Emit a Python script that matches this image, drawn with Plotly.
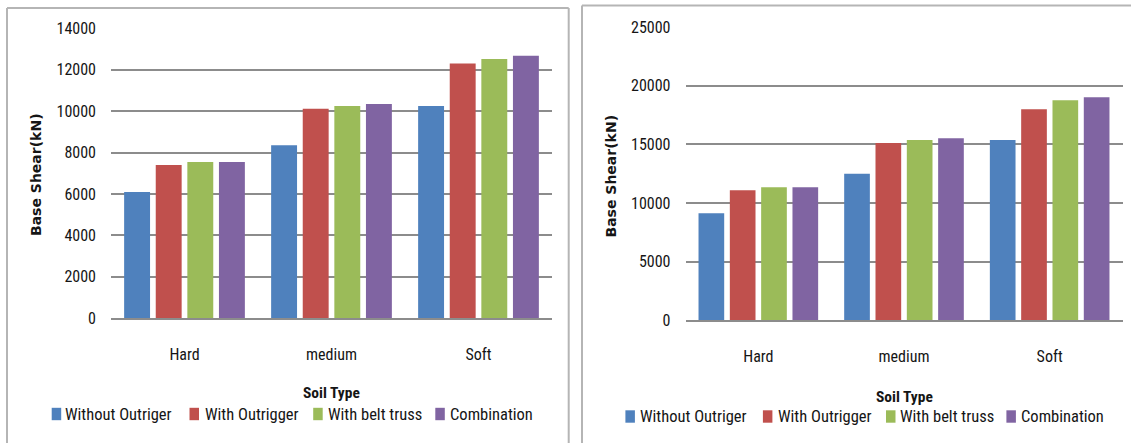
import plotly.graph_objects as go

# ---- data -------------------------------------------------------------
soil_types = ["Hard", "medium", "Soft"]
series_names = ["Without Outriger", "With Outrigger", "With belt truss", "Combination"]
series_colors = ["#4F81BD", "#C0504D", "#9BBB59", "#8064A2"]

# Base shear (kN), first panel
shear_left = {
    "Without Outriger": [6100, 8350, 10250],
    "With Outrigger": [7400, 10120, 12300],
    "With belt truss": [7550, 10250, 12520],
    "Combination": [7550, 10350, 12680],
}
# Base shear (kN), second panel
shear_right = {
    "Without Outriger": [9120, 12500, 15370],
    "With Outrigger": [11080, 15110, 17980],
    "With belt truss": [11340, 15370, 18750],
    "Combination": [11340, 15510, 19010],
}

left_ticks = [0, 2000, 4000, 6000, 8000, 10000, 12000, 14000]
right_ticks = [0, 5000, 10000, 15000, 20000, 25000]

# ---- page geometry (pixels) ------------------------------------------
W, H = 1131, 443


def fx(px):
    return px / W


def fy(py):
    return 1 - py / H


FONT = "Roboto Condensed, Liberation Sans Narrow, Arial Narrow, sans-serif"
TITLE_FONT = "DejaVu Sans, Verdana, sans-serif"
TEXT = "#151515"
GRID = "#8c8c8c"
FRAME = "#b5b5b5"

fig = go.Figure()

for name, color in zip(series_names, series_colors):
    fig.add_trace(go.Bar(
        x=soil_types, y=shear_left[name], name=name,
        marker=dict(color=color, line=dict(width=0)),
        xaxis="x", yaxis="y", showlegend=False,
    ))
    fig.add_trace(go.Bar(
        x=soil_types, y=shear_right[name], name=name,
        marker=dict(color=color, line=dict(width=0)),
        xaxis="x2", yaxis="y2", showlegend=False,
    ))

panels = [
    # plot box (left, top, right, bottom) plus title / legend placement
    dict(box=(111, 28.3, 552, 318.3), ticks=left_ticks, ytitle_x=36, ytitle_y=175,
         xtitle_y=393, leg_y=414, sq_x=[51.7, 189.5, 313.2, 435.3],
         txt_x=[62.5, 202.5, 325.8, 447.8], frame=(7, 8, 568.7)),
    dict(box=(685.5, 27, 1122.5, 320.3), ticks=right_ticks, ytitle_x=611, ytitle_y=176.5,
         xtitle_y=397, leg_y=416.5, sq_x=[625.4, 762.9, 886.0, 1006.4],
         txt_x=[638.3, 775.8, 898.4, 1019.1], frame=(582, 5.5, None)),
]

shapes = []
annotations = []

for i, p in enumerate(panels):
    suffix = "" if i == 0 else str(i + 1)
    left, top, right, bottom = p["box"]
    ticks = p["ticks"]
    fig.update_layout(**{
        "xaxis" + suffix: dict(
            domain=[fx(left), fx(right)],
            anchor="y" + suffix,
            automargin=False,
            showgrid=False, zeroline=False,
            showline=True, linecolor=GRID, linewidth=2,
            ticks="", ticklabelstandoff=20,
            tickfont=dict(family=FONT, size=16, color=TEXT),
            fixedrange=True,
        ),
        "yaxis" + suffix: dict(
            domain=[fy(bottom), fy(top)],
            anchor="x" + suffix,
            automargin=False,
            range=[0, ticks[-1]],
            tickvals=ticks,
            ticktext=[str(t) for t in ticks],
            showgrid=True, gridcolor=GRID, gridwidth=2,
            zeroline=False, showline=False,
            ticks="", ticklabelstandoff=14,
            tickfont=dict(family=FONT, size=16, color=TEXT),
            fixedrange=True,
        ),
    })

    # chart frame: top, left and (where visible) right edges
    fl, ft, fr = p["frame"]
    x_end = fx(fr) if fr is not None else 1
    line_style = dict(color=FRAME, width=2)
    shapes.append(dict(type="line", xref="paper", yref="paper", layer="below",
                       x0=fx(fl), x1=x_end, y0=fy(ft), y1=fy(ft), line=line_style))
    shapes.append(dict(type="line", xref="paper", yref="paper", layer="below",
                       x0=fx(fl), x1=fx(fl), y0=fy(ft), y1=0, line=line_style))
    if fr is not None:
        shapes.append(dict(type="line", xref="paper", yref="paper", layer="below",
                           x0=fx(fr), x1=fx(fr), y0=fy(ft), y1=0, line=line_style))

    # axis titles
    annotations.append(dict(text="<b>Base Shear(kN)</b>", xref="paper", yref="paper",
                            x=fx(p["ytitle_x"]), y=fy(p["ytitle_y"]), textangle=-90,
                            showarrow=False, xanchor="center", yanchor="middle",
                            font=dict(family=TITLE_FONT, size=14, color=TEXT)))
    annotations.append(dict(text="<b>Soil Type</b>", xref="paper", yref="paper",
                            x=fx((left + right) / 2), y=fy(p["xtitle_y"]),
                            showarrow=False, xanchor="center", yanchor="middle",
                            font=dict(family=FONT, size=15.5, color=TEXT)))

    # legend row
    for name, color, sx, tx in zip(series_names, series_colors, p["sq_x"], p["txt_x"]):
        shapes.append(dict(type="rect", xref="paper", yref="paper",
                           x0=fx(sx), x1=fx(sx + 9.5),
                           y0=fy(p["leg_y"] + 6.2), y1=fy(p["leg_y"] - 6.2),
                           line=dict(width=0), fillcolor=color))
        annotations.append(dict(text=name, xref="paper", yref="paper",
                                x=fx(tx), y=fy(p["leg_y"]),
                                showarrow=False, xanchor="left", yanchor="middle",
                                font=dict(family=FONT, size=16.5, color=TEXT)))

fig.update_layout(
    width=W, height=H,
    margin=dict(l=0, r=0, t=0, b=0, autoexpand=False),
    paper_bgcolor="white", plot_bgcolor="white",
    barmode="group", bargap=0.14, bargroupgap=0.18,
    shapes=shapes, annotations=annotations,
    showlegend=False,
)

fig.write_html("out.html", config={"displayModeBar": False})
